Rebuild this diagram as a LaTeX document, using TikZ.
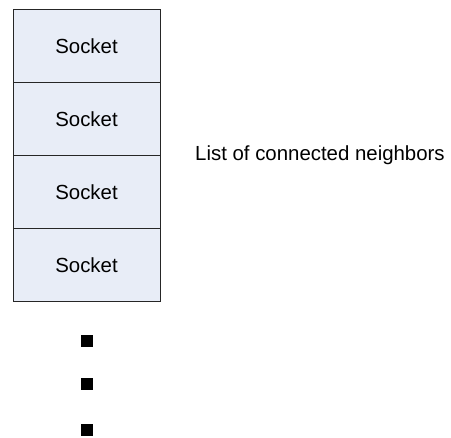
\documentclass[tikz,border=0pt]{standalone}
\usepackage{fontspec}
\setmainfont{Liberation Sans}
\begin{document}
\begin{tikzpicture}[x=1pt,y=-1pt,
  sockbox/.style={draw=black!85, line width=1pt, fill=sockfill, minimum width=147pt, minimum height=73pt, inner sep=0pt, font=\fontsize{20.4}{24}\selectfont},
  bullet/.style={fill=black, minimum size=12pt, inner sep=0pt}]
\definecolor{sockfill}{HTML}{E8EDF7}
\useasboundingbox (0,0) rectangle (451,438);
\node[sockbox] (s1) at (86.5,46.5) {Socket};
\node[sockbox] (s2) at (86.5,119.5) {Socket};
\node[sockbox] (s3) at (86.5,192.5) {Socket};
\node[sockbox] (s4) at (86.5,265.5) {Socket};
\node[anchor=west, inner sep=0pt, font=\fontsize{20.4}{24}\selectfont] (lbl) at (195,155) {List of connected neighbors};
\node[bullet] (b1) at (87,341) {};
\node[bullet] (b2) at (87,384) {};
\node[bullet] (b3) at (87,430) {};
\end{tikzpicture}
\end{document}
